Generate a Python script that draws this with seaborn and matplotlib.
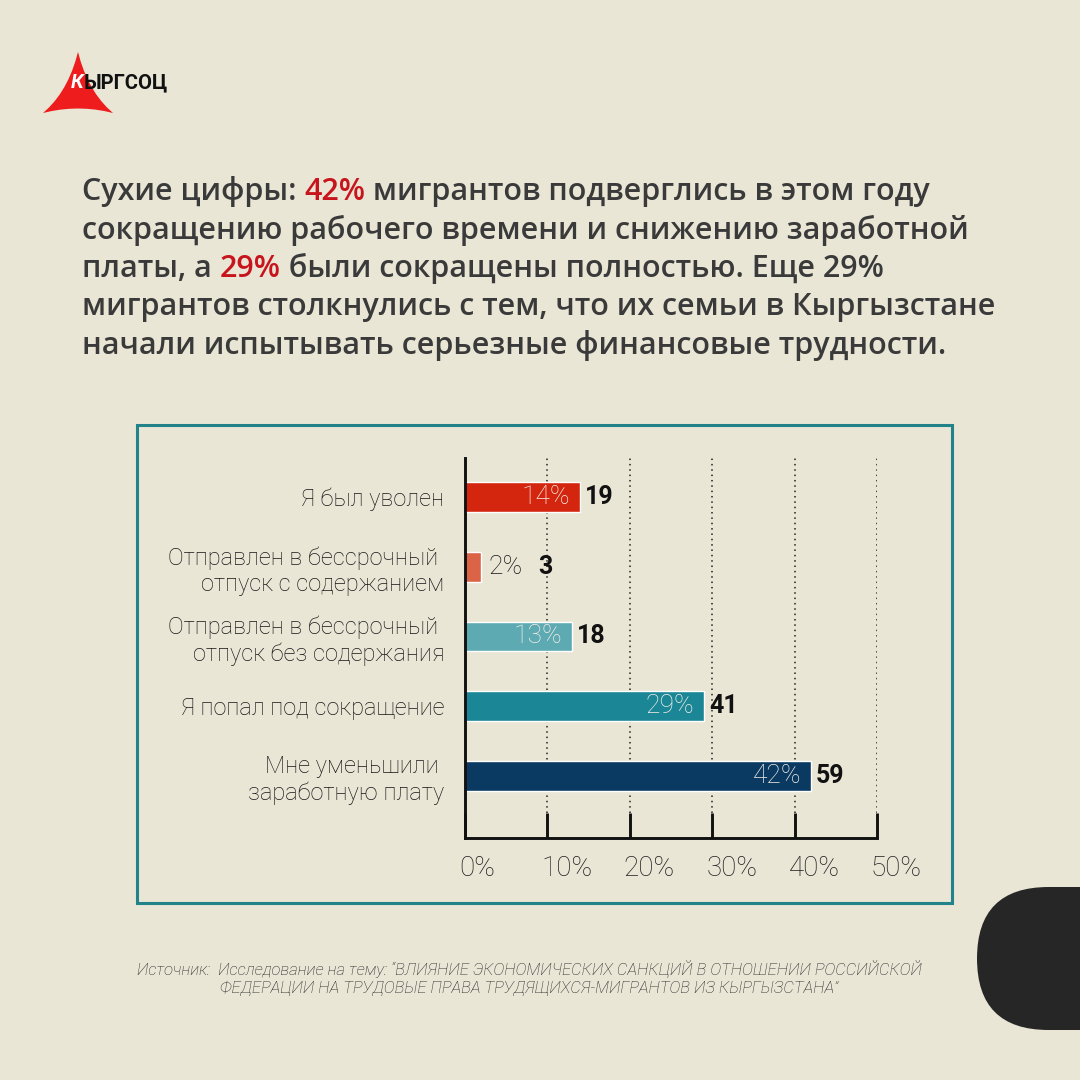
import matplotlib
matplotlib.use("Agg")
import matplotlib.pyplot as plt
import matplotlib.patches as mpatches
from matplotlib.transforms import ScaledTranslation
import seaborn as sns
import pandas as pd

# --- data ---
categories = [
    "Я был уволен",
    "Отправлен в бессрочный \nотпуск с содержанием",
    "Отправлен в бессрочный \nотпуск без содержания",
    "Я попал под сокращение",
    "Мне уменьшили \nзаработную плату",
]
percents = [14, 2, 13, 29, 42]
counts = [19, 3, 18, 41, 59]
bar_colors = ["#d4260f", "#dc6446", "#5eaab2", "#1b8796", "#0a3a62"]
x_ticks = [0, 10, 20, 30, 40, 50]
x_tick_labels = ["0%", "10%", "20%", "30%", "40%", "50%"]

title_lines = [
    [("Сухие цифры: ", "dark"), ("42%", "red"), (" мигрантов подверглись в этом году", "dark")],
    [("сокращению рабочего времени и снижению заработной", "dark")],
    [("платы, а ", "dark"), ("29%", "red"), (" были сокращены полностью. Еще 29%", "dark")],
    [("мигрантов столкнулись с тем, что их семьи в Кыргызстане", "dark")],
    [("начали испытывать серьезные финансовые трудности.", "dark")],
]
source_text = ("Источник:  Исследование на тему: “ВЛИЯНИЕ ЭКОНОМИЧЕСКИХ САНКЦИЙ В ОТНОШЕНИИ РОССИЙСКОЙ\n"
               "ФЕДЕРАЦИИ НА ТРУДОВЫЕ ПРАВА ТРУДЯЩИХСЯ-МИГРАНТОВ ИЗ КЫРГЫЗСТАНА”")

bg = "#e9e6d6"
dark = "#3a3a3a"
red = "#c8141c"

sns.set_theme(style="white")
plt.rcParams["font.family"] = ["Roboto", "DejaVu Sans"]


def px(x, y):
    # pixel position (from top-left) -> figure fraction
    return x / 1080, 1 - y / 1080


def curved_side(a, b, c, n=8):
    # quadratic curve from a to b pulled towards c
    pts = []
    for j in range(n):
        t = j / n
        x = (1 - t) ** 2 * a[0] + 2 * (1 - t) * t * c[0] + t ** 2 * b[0]
        y = (1 - t) ** 2 * a[1] + 2 * (1 - t) * t * c[1] + t ** 2 * b[1]
        pts.append(px(x, y))
    return pts


fig = plt.figure(figsize=(10.8, 10.8), dpi=100)
fig.patch.set_facecolor(bg)

# logo: triangle with slightly concave sides
top, right, left = (78, 52), (113, 113), (43, 113)
logo_pts = (curved_side(top, right, (88, 92)) + curved_side(right, left, (78, 104))
            + curved_side(left, top, (68, 92)))
fig.add_artist(mpatches.Polygon(logo_pts, closed=True, facecolor="#ee1c1c",
                                edgecolor="none", transform=fig.transFigure))
k = fig.text(*px(71, 83), "К", color="white", fontsize=14.5, fontweight="bold",
             style="italic", va="center", ha="left")
fig.canvas.draw()
renderer = fig.canvas.get_renderer()
kx = k.get_window_extent(renderer).x1
fig.text(kx / 1080, 1 - 83 / 1080, "ЫРГСОЦ", color="#111111", fontsize=14.5,
         fontweight="bold", va="center", ha="left")

# title with red highlights
baselines = [200, 238.5, 277, 315.5, 354]
for line, base in zip(title_lines, baselines):
    x = 82
    for piece, col in line:
        t = fig.text(x / 1080, 1 - base / 1080, piece, fontsize=22,
                     fontweight="semibold", family=["Open Sans", "DejaVu Sans"],
                     color=red if col == "red" else dark, va="baseline", ha="left")
        x = t.get_window_extent(renderer).x1

# chart frame
fig.add_artist(mpatches.Rectangle(px(137, 903), 815 / 1080, 478 / 1080, fill=False,
                                  edgecolor="#22838a", linewidth=2.2,
                                  transform=fig.transFigure))

# bars
ax = fig.add_axes([465 / 1080, 1 - 838 / 1080, 412 / 1080, 380 / 1080])
ax.set_facecolor("none")
df = pd.DataFrame({"category": categories, "percent": percents})
sns.barplot(data=df, x="percent", y="category", hue="category", palette=bar_colors,
            legend=False, width=0.43, saturation=1, ax=ax)

ax.set_xlim(0, 50)
ax.set_ylim(4.89, -0.56)
ax.set_xlabel("")
ax.set_ylabel("")

for s in ["top", "right"]:
    ax.spines[s].set_visible(False)
for s in ["left", "bottom"]:
    ax.spines[s].set_color("#111111")
    ax.spines[s].set_linewidth(2.1)

ax.set_xticks(x_ticks)
ax.set_xticklabels(x_tick_labels, fontweight="light")
ax.tick_params(axis="x", bottom=True, direction="in", length=18, width=2.1,
               color="#111111", pad=12, labelsize=20, labelcolor="#1e1e1e")
# tick labels sit just right of their ticks
shift = ScaledTranslation(-6 / 100, 0, fig.dpi_scale_trans)
for lab in ax.get_xticklabels():
    lab.set_horizontalalignment("left")
    lab.set_transform(lab.get_transform() + shift)

ax.tick_params(axis="y", left=False, length=0, pad=15, labelsize=17,
               labelcolor="#161616")
for lab in ax.get_yticklabels():
    lab.set_fontweight("light")

for xv in x_ticks[1:]:
    ax.axvline(xv, ymin=0.066, ymax=1, color="#222222", linewidth=1.1,
               linestyle=(0, (1, 2.5)), zorder=0)

for i, (p, c) in enumerate(zip(percents, counts)):
    if p >= 5:
        ax.text(p - 1.2, i, f"{p}%", ha="right", va="center", color="#f5efe8",
                fontsize=19, fontweight="light")
        ax.text(p + 0.6, i, str(c), ha="left", va="center", color="#111111",
                fontsize=18, fontweight="bold")
    else:
        ax.text(p + 0.9, i, f"{p}%", ha="left", va="center", color="#161616",
                fontsize=19, fontweight="light")
        ax.text(p + 6.9, i, str(c), ha="left", va="center", color="#111111",
                fontsize=18, fontweight="bold")

# source
fig.text(*px(529, 978), source_text, ha="center", va="center", multialignment="center",
         style="italic", fontweight="light", fontsize=12, color="#222222",
         linespacing=1.2)

# black rounded shape bottom right
fig.add_artist(mpatches.FancyBboxPatch(px(977, 1030), 200 / 1080, 143 / 1080,
                                       boxstyle=f"round,pad=0,rounding_size={71.5 / 1080}",
                                       facecolor="#262626", edgecolor="none",
                                       transform=fig.transFigure))

fig.savefig("out.png", dpi=100, facecolor=bg)
